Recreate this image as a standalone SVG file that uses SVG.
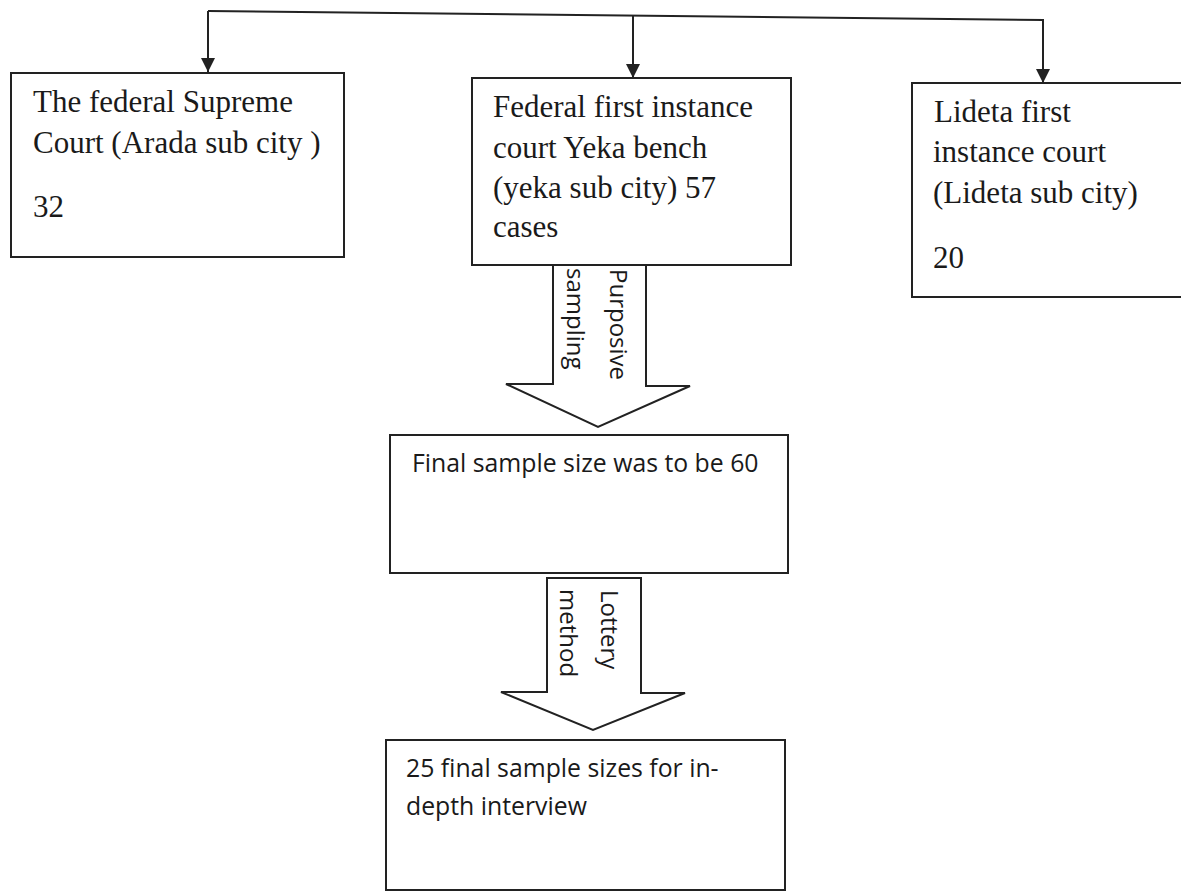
<svg xmlns="http://www.w3.org/2000/svg" width="1181" height="892" viewBox="0 0 1181 892">
<style>
.box{fill:#fff;stroke:#222;stroke-width:2}
.serif{font-family:"Liberation Serif","Times New Roman",serif;font-size:31px;fill:#1a1a1a}
.sans{font-family:"Open Sans","Noto Sans",sans-serif;font-size:24.8px;fill:#1a1a1a}
.rot{font-family:"Open Sans","Noto Sans",sans-serif;font-size:24px;fill:#1a1a1a}
.line{fill:none;stroke:#222;stroke-width:2}
.block{fill:#fff;stroke:#222;stroke-width:2;stroke-linejoin:miter}
</style>
<defs>
<marker id="ah" viewBox="0 0 10 10" refX="10" refY="5" markerWidth="7" markerHeight="7.5" markerUnits="strokeWidth" orient="auto">
<path d="M0,0 L10,5 L0,10 Z" fill="#222"/>
</marker>
</defs>
<rect width="1181" height="892" fill="#fff"/>
<g id="connectors">
<path class="line" d="M208,11 L1043,20 L1043,83" marker-end="url(#ah)"/>
<path class="line" d="M208,11 L208,72" marker-end="url(#ah)"/>
<path class="line" d="M633,15 L633,78" marker-end="url(#ah)"/>
<polygon id="purposive-arrow" class="block" points="553,265 553,384 506,384 598,427 690,386 646,386 646,265"/>
<polygon id="lottery-arrow" class="block" points="547,578 547,692 501,692 593,730 685,693 641,693 641,578"/>
<text class="rot" transform="translate(610,269) rotate(90)">Purposive</text>
<text class="rot" transform="translate(567,268) rotate(90)">sampling</text>
<text class="rot" transform="translate(601,590) rotate(90)">Lottery</text>
<text class="rot" transform="translate(560,589) rotate(90)">method</text>
</g>
<g id="supreme-court">
<rect class="box" x="11" y="73" width="333" height="184"/>
<text class="serif" x="33" y="112">The federal Supreme</text>
<text class="serif" x="33" y="153">Court (Arada sub city )</text>
<text class="serif" x="33" y="217">32</text>
</g>
<g id="yeka-court">
<rect class="box" x="472" y="78" width="319" height="187"/>
<text class="serif" x="493" y="117">Federal first instance</text>
<text class="serif" x="493" y="158">court Yeka bench</text>
<text class="serif" x="493" y="198">(yeka sub city) 57</text>
<text class="serif" x="493" y="237">cases</text>
</g>
<g id="lideta-court">
<rect class="box" x="912" y="83" width="300" height="214"/>
<text class="serif" x="934" y="122"> Lideta first</text>
<text class="serif" x="933" y="162">instance court</text>
<text class="serif" x="933" y="203">(Lideta sub city)</text>
<text class="serif" x="933" y="268">20</text>
</g>
<g id="final-sample-60">
<rect class="box" x="390" y="435" width="398" height="138"/>
<text class="sans" x="412" y="472">Final sample size was to be 60</text>
</g>
<g id="final-sample-25">
<rect class="box" x="386" y="740" width="399" height="150"/>
<text class="sans" x="406" y="777">25 final sample sizes for in-</text>
<text class="sans" x="406" y="815">depth interview</text>
</g>
</svg>
